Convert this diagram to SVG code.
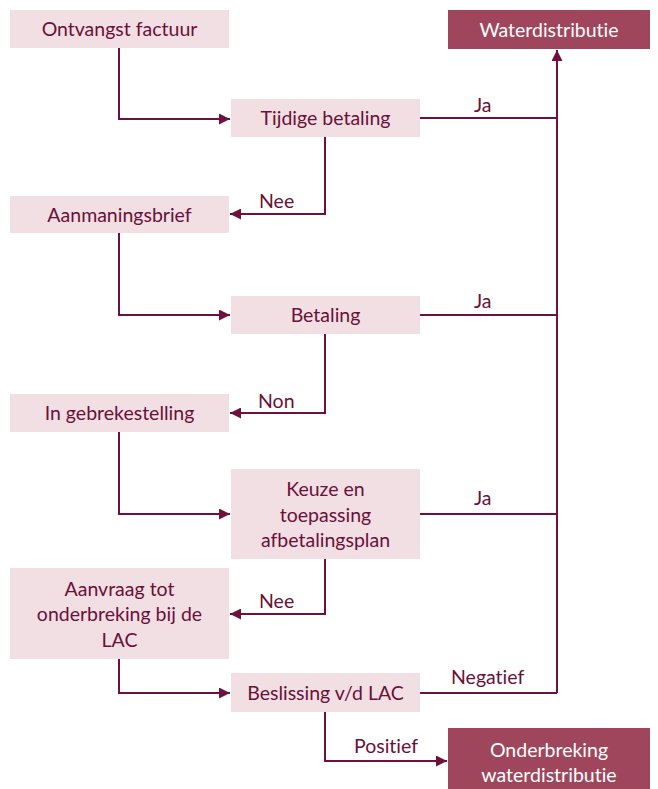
<svg xmlns="http://www.w3.org/2000/svg" width="658" height="789" viewBox="0 0 658 789">
<style>
.box{fill:#F2DFE4}
.dark{fill:#A0465C}
.t{font-family:Lato,"Open Sans","Liberation Sans",sans-serif;font-size:19.5px;fill:#6B1038;text-anchor:middle;font-variant-ligatures:none}
.w{fill:#FFFFFF}
.lbl{font-family:Lato,"Open Sans","Liberation Sans",sans-serif;font-size:19.5px;fill:#6B1038;font-variant-ligatures:none}
.c{fill:none;stroke:#70103F;stroke-width:2}
</style>
<defs>
<marker id="ah" viewBox="0 0 10 10" refX="10" refY="5" markerWidth="11" markerHeight="11" markerUnits="userSpaceOnUse" orient="auto">
<path d="M0,0 L10,5 L0,10 Z" fill="#70103F"/>
</marker>
</defs>
<g id="connectors">
<path class="c" d="M119,48 V119 H230" marker-end="url(#ah)"/>
<path class="c" d="M420,118 H557"/>
<path class="c" d="M557,693 V50" marker-end="url(#ah)"/>
<path class="c" d="M325,137 V214 H230" marker-end="url(#ah)"/>
<path class="c" d="M119,233 V315 H230" marker-end="url(#ah)"/>
<path class="c" d="M420,315 H557"/>
<path class="c" d="M325,334 V413 H230" marker-end="url(#ah)"/>
<path class="c" d="M119,432 V514 H230" marker-end="url(#ah)"/>
<path class="c" d="M420,514 H557"/>
<path class="c" d="M325,559 V614 H230" marker-end="url(#ah)"/>
<path class="c" d="M119,659 V693 H230" marker-end="url(#ah)"/>
<path class="c" d="M420,693 H557"/>
<path class="c" d="M325,712 V761 H447" marker-end="url(#ah)"/>
<text class="lbl" x="474" y="112">Ja</text>
<text class="lbl" x="474" y="308">Ja</text>
<text class="lbl" x="474" y="505">Ja</text>
<text class="lbl" x="259" y="208">Nee</text>
<text class="lbl" x="258" y="408">Non</text>
<text class="lbl" x="259" y="608">Nee</text>
<text class="lbl" x="451" y="684">Negatief</text>
<text class="lbl" x="354" y="753">Positief</text>
</g>
<g id="ontvangst"><rect class="box" x="10" y="10" width="219" height="38"/><text class="t" x="119.5" y="36">Ontvangst factuur</text></g>
<g id="waterdistributie"><rect class="dark" x="448" y="10" width="202" height="39"/><text class="t w" x="549" y="37">Waterdistributie</text></g>
<g id="tijdige"><rect class="box" x="231" y="99" width="189" height="38"/><text class="t" x="325.5" y="125">Tijdige betaling</text></g>
<g id="aanmaning"><rect class="box" x="10" y="196" width="219" height="37"/><text class="t" x="119.5" y="222">Aanmaningsbrief</text></g>
<g id="betaling"><rect class="box" x="231" y="296" width="189" height="38"/><text class="t" x="325.5" y="322">Betaling</text></g>
<g id="gebreke"><rect class="box" x="10" y="394" width="219" height="38"/><text class="t" x="119.5" y="420">In gebrekestelling</text></g>
<g id="keuze"><rect class="box" x="231" y="469" width="189" height="90"/><text class="t" x="325.5" y="496">Keuze en</text><text class="t" x="325.5" y="522">toepassing</text><text class="t" x="325.5" y="547">afbetalingsplan</text></g>
<g id="aanvraag"><rect class="box" x="10" y="568" width="219" height="91"/><text class="t" x="119.5" y="596">Aanvraag tot</text><text class="t" x="119.5" y="621">onderbreking bij de</text><text class="t" x="119.5" y="647">LAC</text></g>
<g id="beslissing"><rect class="box" x="231" y="673" width="189" height="39"/><text class="t" x="325.5" y="700">Beslissing v/d LAC</text></g>
<g id="onderbreking"><rect class="dark" x="448" y="728" width="202" height="61"/><text class="t w" x="549" y="757">Onderbreking</text><text class="t w" x="549" y="782">waterdistributie</text></g>
</svg>
